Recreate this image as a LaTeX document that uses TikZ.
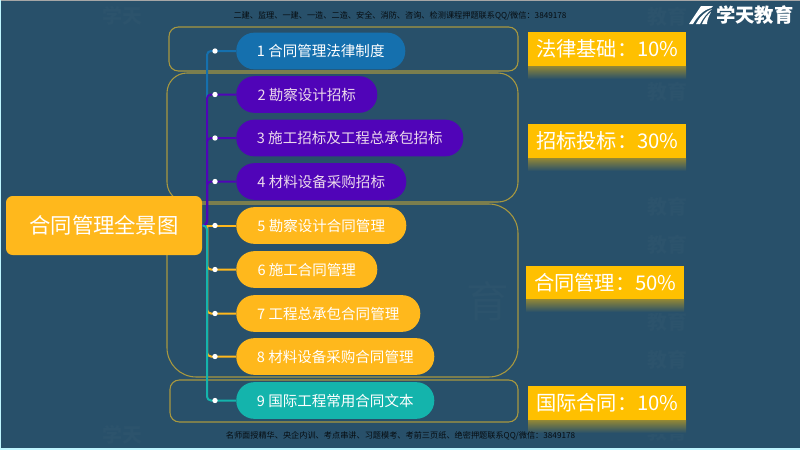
\documentclass[tikz,border=0pt]{standalone}
\usepackage{fontspec}
\setmainfont{Noto Sans CJK SC}
\usetikzlibrary{calc}
\definecolor{bgc}{HTML}{28506A}
\definecolor{gold}{HTML}{FFB81C}
\definecolor{lab}{HTML}{FFC000}
\definecolor{frame}{HTML}{A8983F}
\definecolor{blu}{HTML}{1570AE}
\definecolor{pur}{HTML}{5004B8}
\definecolor{tea}{HTML}{14B4AC}
\definecolor{wm}{HTML}{2C536C}
\tikzset{
  x=0.75pt,y=-0.75pt,
  pill/.style={rounded corners=13.5pt,inner sep=0pt,minimum height=27.5pt,text=white,font=\fontsize{10.9}{12}\selectfont,anchor=west},
  framebox/.style={draw=frame,line width=0.8pt},
  lbl/.style={fill=lab,minimum width=118.5pt,minimum height=25.5pt,inner sep=0pt,text=white,font=\fontsize{15.2}{18}\selectfont,anchor=north west},
  dotn/.style={circle,fill=white,inner sep=0pt,minimum size=4pt},
  link/.style={line width=1.5pt,rounded corners=3pt},
  small/.style={text=black!85!bgc,font=\fontsize{6.13}{7}\selectfont},
  wmark/.style={text=wm,font=\fontsize{15}{16}\selectfont\bfseries},
}
\newcommand{\reflectbar}[2]{\shade[top color=lab!50!bgc,bottom color=bgc] (#1,#2) rectangle (#1+158,#2+13);}
\begin{document}
\begin{tikzpicture}
\useasboundingbox (0,0) rectangle (800,450);
\fill[bgc] (0,0) rectangle (800,450);
\fill[black!35!white] (0,0) rectangle (800,1);
\fill[blue!15!cyan!25!white] (0,448) rectangle (800,450);
\fill[blue!15!cyan!25!white] (0,0) rectangle (1,450);
% watermarks
\foreach \px/\py in {667/17,667/92,667/207,667/245,667/322,667/360,667/432}
  \node[wmark] at (\px,\py) {教育};
\node[wmark] at (122,16) {学天};
\node[wmark] at (122,435) {学天};
\node[text=wm,font=\fontsize{32}{34}\selectfont] at (488,301) {育};
% outline groups
\draw[framebox,rounded corners=7pt] (169,27) rectangle (518,71);
\draw[framebox,rounded corners=15pt] (167,73) rectangle (518,202);
\draw[framebox,rounded corners=22pt] (167,204) rectangle (518,377);
\draw[framebox,rounded corners=7pt] (170,380) rectangle (518,422);
% root and pills
\node[fill=gold,rounded corners=5pt,minimum width=147pt,minimum height=44.25pt,inner sep=0pt,text=white,font=\fontsize{16}{18}\selectfont] (root) at (104,225.5) {合同管理全景图};
\coordinate (trunk) at (207,225.5);
\node[pill,fill=blu,minimum width=126.75pt] (p1) at (236,51) {1 合同管理法律制度};
\node[pill,fill=pur,minimum width=105.75pt,text=white!85!violet] (p2) at (236,94.5) {2 勘察设计招标};
\node[pill,fill=pur,minimum width=170.25pt,text=white!85!violet] (p3) at (236,138) {3 施工招标及工程总承包招标};
\node[pill,fill=pur,minimum width=127.5pt,text=white!85!violet] (p4) at (236,181.5) {4 材料设备采购招标};
\node[pill,fill=gold,minimum width=127.5pt] (p5) at (236,225.5) {5 勘察设计合同管理};
\node[pill,fill=gold,minimum width=105.75pt] (p6) at (236,269.5) {6 施工合同管理};
\node[pill,fill=gold,minimum width=138pt] (p7) at (236,313.5) {7 工程总承包合同管理};
\node[pill,fill=gold,minimum width=148.5pt] (p8) at (236,356.5) {8 材料设备采购合同管理};
\node[pill,fill=tea,minimum width=148.5pt] (p9) at (236,400.5) {9 国际工程常用合同文本};
% dots
\foreach \i/\py in {1/51,2/94.5,3/138,4/181.5,5/225.5,6/269.5,7/313.5,8/356.5,9/400.5}
  \coordinate (d\i) at (215,\py);
% connectors
\draw[link,blu] (root.east) -- (trunk) |- (d1) -- (p1.west);
\foreach \i in {2,3,4} \draw[link,pur] (root.east) -- (trunk) |- (d\i) -- (p\i.west);
\draw[link,gold] (trunk) -- (d5) -- (p5.west);
\foreach \i in {6,7,8} \draw[link,gold] (trunk) |- (d\i) -- (p\i.west);
\draw[link,tea] (root.east) -- (trunk) |- (d9) -- (p9.west);
\foreach \i in {1,...,9} \node[dotn] (n\i) at (d\i) {};
% labels
\node[lbl] (l1) at (528,32) {法律基础：10\%};
\node[lbl] (l2) at (528,124) {招标投标：30\%};
\node[lbl] (l3) at (526,266) {合同管理：50\%};
\node[lbl] (l4) at (528,386) {国际合同：10\%};
\reflectbar{528}{66}
\reflectbar{528}{158}
\reflectbar{526}{299}
\reflectbar{528}{420}
% header, footer
\node[small] at (400,16) {二建、监理、一建、一造、二造、安全、消防、咨询、检测课程押题联系QQ/微信：3849178};
\node[small] at (400.5,436) {名师面授精华、央企内训、考点串讲、习题模考、考前三页纸、绝密押题联系QQ/微信：3849178};
% logo
\fill[white] (689,24) -- (701,6) -- (713,6) -- (711,8) .. controls (703,10) and (697,17) .. (693,24) -- cycle;
\fill[white] (696,24) .. controls (700,16) and (706,11) .. (712,9) .. controls (707,13) and (703,18) .. (700,24) -- cycle;
\fill[white] (702,24) .. controls (704,19) and (708,14) .. (711,12) .. controls (709,16) and (707,20) .. (707,24) -- cycle;
\node[text=white,font=\fontsize{14.5}{16}\selectfont\bfseries,anchor=west,inner sep=0pt] (logo) at (716,15) {学天教育};
\end{tikzpicture}
\end{document}
